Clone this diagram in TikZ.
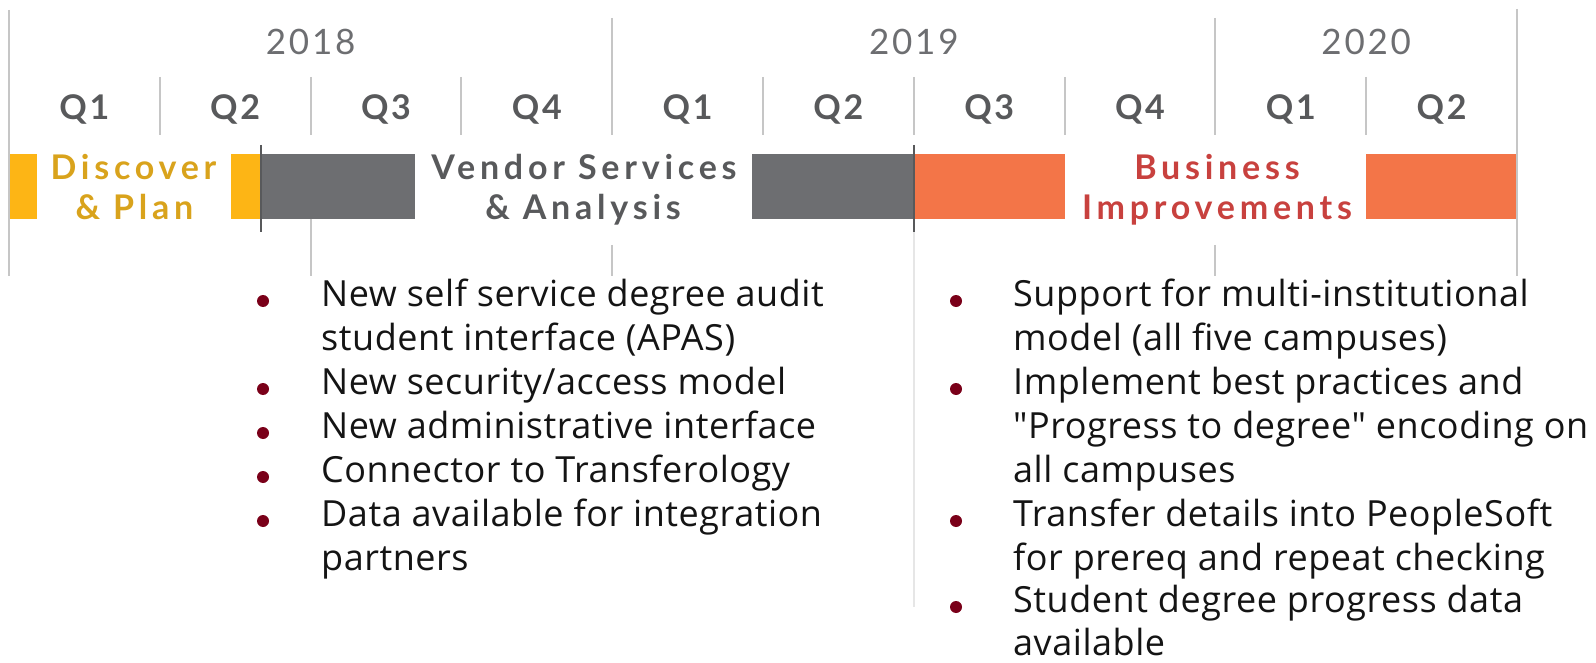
\documentclass[tikz,border=0pt]{standalone}
\usepackage{fontspec}
\setmainfont{Open Sans}
\newfontfamily\itemfont[LetterSpace=1.5]{Open Sans}
\newfontfamily\hdrfont[LetterSpace=14]{Lato}
\newfontfamily\qfont[LetterSpace=8]{Lato}
\newfontfamily\yearfont[LetterSpace=8]{Lato}
\definecolor{gridgray}{HTML}{C6C6C6}
\definecolor{faintgray}{HTML}{E6E6E6}
\definecolor{darkgray}{HTML}{58595B}
\definecolor{bargray}{HTML}{6D6E71}
\definecolor{baryellow}{HTML}{FDB515}
\definecolor{barorange}{HTML}{F37548}
\definecolor{txtgold}{HTML}{D9A31C}
\definecolor{txtred}{HTML}{C8413E}
\definecolor{maroon}{HTML}{7A0019}
\definecolor{itemtext}{HTML}{141414}
\tikzset{
  grid/.style={draw=gridgray, line width=2pt},
  faint/.style={draw=faintgray, line width=2pt},
  tickline/.style={draw=darkgray, line width=2.5pt},
  yearlab/.style={font=\yearfont\fontsize{35}{35}\selectfont, text=bargray, anchor=base, inner sep=0},
  qlab/.style={font=\qfont\bfseries\fontsize{34}{34}\selectfont, text=darkgray, anchor=base, inner sep=0},
  phase/.style={font=\hdrfont\bfseries\fontsize{34}{34}\selectfont, anchor=base, inner sep=0},
  item/.style={font=\itemfont\fontsize{36}{36}\selectfont, text=itemtext, anchor=base west, inner sep=0},
  dot/.style={circle, fill=maroon, minimum size=12pt, inner sep=0},
}
\begin{document}
\begin{tikzpicture}[x=1pt,y=-1pt]
\useasboundingbox (0,0) rectangle (1596,663);
% bars
\fill[baryellow] (9,154) rectangle (37,219);
\fill[baryellow] (231,154) rectangle (260,219);
\fill[bargray] (260,154) rectangle (415,219);
\fill[bargray] (752,154) rectangle (914,219);
\fill[barorange] (914,154) rectangle (1065,219);
\fill[barorange] (1366,154) rectangle (1517,219);
% grid lines
\draw[grid] (9,10) -- (9,276);
\draw[grid] (1517,9) -- (1517,276);
\foreach \k in {4,8} {
  \draw[grid] ({9+150.8*\k},18) -- ({9+150.8*\k},135);
  \draw[grid] ({9+150.8*\k},245) -- ({9+150.8*\k},276);
}
\foreach \k in {1,2,3,5,6,7,9} {
  \draw[grid] ({9+150.8*\k},77) -- ({9+150.8*\k},135);
}
\draw[grid] (310.6,219) -- (310.6,276);
\draw[faint] (913.8,232) -- (913.8,607);
% ticks
\draw[tickline] (261,145) -- (261,232);
\draw[tickline] (914,145) -- (914,232);
% years
\node[yearlab] (y2018) at (310.6,55) {2018};
\node[yearlab] (y2019) at (913.8,55) {2019};
\node[yearlab] (y2020) at (1366.2,55) {2020};
% quarters
\node[qlab] (q1) at (84.4,120) {Q1};
\node[qlab] (q2) at (235.2,120) {Q2};
\node[qlab] (q3) at (386.0,120) {Q3};
\node[qlab] (q4) at (536.8,120) {Q4};
\node[qlab] (q5) at (687.6,120) {Q1};
\node[qlab] (q6) at (838.4,120) {Q2};
\node[qlab] (q7) at (989.2,120) {Q3};
\node[qlab] (q8) at (1140.0,120) {Q4};
\node[qlab] (q9) at (1290.8,120) {Q1};
\node[qlab] (q10) at (1441.6,120) {Q2};
% phase labels
\node[phase, text=txtgold] (p1a) at (133.5,180) {Discover};
\node[phase, text=txtgold] (p1b) at (134.5,220) {\& Plan};
\node[phase, text=darkgray] (p2a) at (584,180) {Vendor Services};
\node[phase, text=darkgray] (p2b) at (583,220) {\& Analysis};
\node[phase, text=txtred] (p3a) at (1217,180) {Business};
\node[phase, text=txtred] (p3b) at (1217,220) {Improvements};
% left list
\node[dot] (ld1) at (263,301) {};
\node[item] (l1) at (321,306) {New self service degree audit};
\node[item] (l2) at (321,350) {student interface (APAS)};
\node[dot] (ld2) at (263,389) {};
\node[item] (l3) at (321,394) {New security/access model};
\node[dot] (ld3) at (263,433) {};
\node[item] (l4) at (321,438) {New administrative interface};
\node[dot] (ld4) at (263,477) {};
\node[item] (l5) at (321,482) {Connector to Transferology};
\node[dot] (ld5) at (263,521) {};
\node[item] (l6) at (321,526) {Data available for integration};
\node[item] (l7) at (321,570) {partners};
% right list
\node[dot] (rd1) at (956,301) {};
\node[item] (r1) at (1013,306) {Support for multi-institutional};
\node[item] (r2) at (1013,350) {model (all five campuses)};
\node[dot] (rd2) at (956,389) {};
\node[item] (r3) at (1013,394) {Implement best practices and};
\node[item] (r4) at (1013,438) {"Progress to degree" encoding on};
\node[item] (r5) at (1013,482) {all campuses};
\node[dot] (rd3) at (956,521) {};
\node[item] (r6) at (1013,526) {Transfer details into PeopleSoft};
\node[item] (r7) at (1013,570) {for prereq and repeat checking};
\node[dot] (rd4) at (956,607) {};
\node[item] (r8) at (1013,612) {Student degree progress data};
\node[item] (r9) at (1013,655) {available};
\end{tikzpicture}
\end{document}
